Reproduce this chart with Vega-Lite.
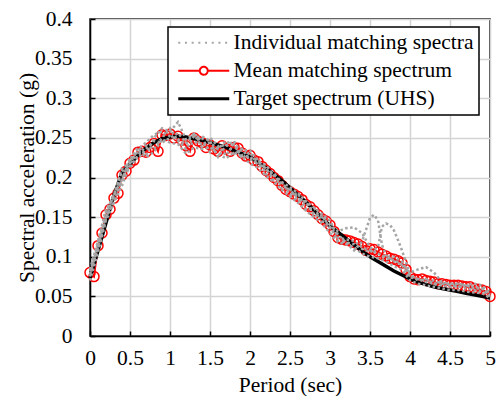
{
  "$schema": "https://vega.github.io/schema/vega-lite/v6.json",
  "autosize": "none",
  "padding": {"left": 90, "top": 19, "right": 9, "bottom": 60},
  "width": 400,
  "height": 317,
  "background": "white",
  "config": {
    "view": {"stroke": "black", "strokeWidth": 1.5},
    "numberFormat": "~g",
    "axis": {
      "labelFont": "Liberation Serif", "labelFontSize": 21.5, "labelColor": "black",
      "titleFont": "Liberation Serif", "titleFontSize": 21.5, "titleFontWeight": "normal", "titleColor": "black",
      "domainColor": "black", "domainWidth": 1.5, "tickColor": "black", "tickWidth": 1.5, "tickSize": -5,
      "grid": true, "gridColor": "#d4d4d4", "gridWidth": 1.5, "labelFlush": false, "labelOverlap": false
    },
    "axisX": {"labelPadding": 16, "titlePadding": 6, "tickCount": 10},
    "axisY": {"labelPadding": 23, "titlePadding": -4, "tickCount": 8},
    "legend": {
      "labelFont": "Liberation Serif", "labelFontSize": 21.5, "labelColor": "black",
      "symbolSize": 289, "padding": 5, "rowPadding": 5,
      "strokeColor": "black", "strokeWidth": 1.5, "fillColor": "white",
      "symbolOffset": 20, "labelOffset": 19, "labelLimit": 400
    }
  },
  "datasets": {
    "uhs": [
      {"x":0,"y":0.073},{"x":0.1,"y":0.108},{"x":0.2,"y":0.143},{"x":0.3,"y":0.178},{"x":0.4,"y":0.206},{"x":0.5,"y":0.217},{"x":0.6,"y":0.228},{"x":0.7,"y":0.237},{"x":0.8,"y":0.244},{"x":0.9,"y":0.249},
      {"x":1.0,"y":0.251},{"x":1.1,"y":0.252},{"x":1.2,"y":0.251},{"x":1.3,"y":0.249},{"x":1.4,"y":0.247},{"x":1.5,"y":0.244},{"x":1.6,"y":0.241},{"x":1.7,"y":0.238},{"x":1.8,"y":0.234},{"x":1.9,"y":0.230},
      {"x":2.0,"y":0.226},{"x":2.1,"y":0.219},{"x":2.2,"y":0.212},{"x":2.3,"y":0.204},{"x":2.4,"y":0.196},{"x":2.5,"y":0.187},{"x":2.6,"y":0.178},{"x":2.7,"y":0.169},{"x":2.8,"y":0.159},{"x":2.9,"y":0.149},
      {"x":3.0,"y":0.139},{"x":3.1,"y":0.131},{"x":3.2,"y":0.123},{"x":3.3,"y":0.115},{"x":3.4,"y":0.107},{"x":3.5,"y":0.100},{"x":3.6,"y":0.094},{"x":3.7,"y":0.088},{"x":3.8,"y":0.082},{"x":3.9,"y":0.077},
      {"x":4.0,"y":0.072},{"x":4.1,"y":0.068},{"x":4.2,"y":0.065},{"x":4.3,"y":0.062},{"x":4.4,"y":0.060},{"x":4.5,"y":0.058},{"x":4.6,"y":0.056},{"x":4.7,"y":0.054},{"x":4.8,"y":0.052},{"x":4.9,"y":0.050},{"x":5.0,"y":0.048}
    ],
    "mean": [
      {"x":0,"y":0.080},{"x":0.05,"y":0.075},{"x":0.1,"y":0.114},{"x":0.15,"y":0.130},{"x":0.2,"y":0.153},{"x":0.25,"y":0.160},{"x":0.3,"y":0.174},{"x":0.35,"y":0.180},{"x":0.4,"y":0.203},{"x":0.45,"y":0.208},
      {"x":0.5,"y":0.218},{"x":0.55,"y":0.222},{"x":0.6,"y":0.232},{"x":0.65,"y":0.233},{"x":0.7,"y":0.232},{"x":0.75,"y":0.238},{"x":0.8,"y":0.243},{"x":0.85,"y":0.233},{"x":0.9,"y":0.254},{"x":0.95,"y":0.253},
      {"x":1.0,"y":0.255},{"x":1.05,"y":0.250},{"x":1.1,"y":0.252},{"x":1.15,"y":0.247},{"x":1.2,"y":0.240},{"x":1.25,"y":0.233},{"x":1.3,"y":0.250},{"x":1.35,"y":0.246},{"x":1.4,"y":0.244},{"x":1.45,"y":0.238},
      {"x":1.5,"y":0.241},{"x":1.55,"y":0.236},{"x":1.6,"y":0.233},{"x":1.65,"y":0.240},{"x":1.7,"y":0.236},{"x":1.75,"y":0.233},{"x":1.8,"y":0.238},{"x":1.85,"y":0.237},{"x":1.9,"y":0.231},{"x":1.95,"y":0.227},
      {"x":2.0,"y":0.228},{"x":2.05,"y":0.222},{"x":2.1,"y":0.220},{"x":2.15,"y":0.214},{"x":2.2,"y":0.209},{"x":2.25,"y":0.205},{"x":2.3,"y":0.200},{"x":2.35,"y":0.196},{"x":2.4,"y":0.190},{"x":2.45,"y":0.185},
      {"x":2.5,"y":0.182},{"x":2.55,"y":0.179},{"x":2.6,"y":0.176},{"x":2.65,"y":0.172},{"x":2.7,"y":0.166},{"x":2.75,"y":0.163},{"x":2.8,"y":0.158},{"x":2.85,"y":0.153},{"x":2.9,"y":0.148},{"x":2.95,"y":0.145},
      {"x":3.0,"y":0.140},{"x":3.05,"y":0.132},{"x":3.1,"y":0.124},{"x":3.15,"y":0.122},{"x":3.2,"y":0.121},{"x":3.25,"y":0.120},{"x":3.3,"y":0.118},{"x":3.35,"y":0.116},{"x":3.4,"y":0.113},{"x":3.45,"y":0.108},
      {"x":3.5,"y":0.110},{"x":3.55,"y":0.109},{"x":3.6,"y":0.106},{"x":3.65,"y":0.103},{"x":3.7,"y":0.101},{"x":3.75,"y":0.098},{"x":3.8,"y":0.097},{"x":3.85,"y":0.095},{"x":3.9,"y":0.092},{"x":3.95,"y":0.084},
      {"x":4.0,"y":0.075},{"x":4.05,"y":0.072},{"x":4.1,"y":0.071},{"x":4.15,"y":0.072},{"x":4.2,"y":0.070},{"x":4.25,"y":0.069},{"x":4.3,"y":0.068},{"x":4.35,"y":0.066},{"x":4.4,"y":0.066},{"x":4.45,"y":0.065},
      {"x":4.5,"y":0.064},{"x":4.55,"y":0.064},{"x":4.6,"y":0.064},{"x":4.65,"y":0.063},{"x":4.7,"y":0.062},{"x":4.75,"y":0.062},{"x":4.8,"y":0.060},{"x":4.85,"y":0.059},{"x":4.9,"y":0.058},{"x":4.95,"y":0.056},{"x":5.0,"y":0.050}
    ],
    "ind": [
      {"id":1,"x":0,"y":0.075},{"id":1,"x":0.1,"y":0.118},{"id":1,"x":0.2,"y":0.150},{"id":1,"x":0.3,"y":0.170},{"id":1,"x":0.4,"y":0.198},{"id":1,"x":0.5,"y":0.222},{"id":1,"x":0.6,"y":0.238},{"id":1,"x":0.7,"y":0.228},{"id":1,"x":0.8,"y":0.250},{"id":1,"x":0.9,"y":0.262},
      {"id":1,"x":1.0,"y":0.258},{"id":1,"x":1.1,"y":0.270},{"id":1,"x":1.2,"y":0.248},{"id":1,"x":1.3,"y":0.255},{"id":1,"x":1.4,"y":0.238},{"id":1,"x":1.5,"y":0.250},{"id":1,"x":1.6,"y":0.240},{"id":1,"x":1.7,"y":0.228},{"id":1,"x":1.8,"y":0.242},{"id":1,"x":1.9,"y":0.224},
      {"id":1,"x":2.0,"y":0.232},{"id":1,"x":2.1,"y":0.215},{"id":1,"x":2.2,"y":0.212},{"id":1,"x":2.3,"y":0.196},{"id":1,"x":2.4,"y":0.194},{"id":1,"x":2.5,"y":0.178},{"id":1,"x":2.6,"y":0.180},{"id":1,"x":2.7,"y":0.160},{"id":1,"x":2.8,"y":0.162},{"id":1,"x":2.9,"y":0.145},
      {"id":1,"x":3.0,"y":0.138},{"id":1,"x":3.1,"y":0.120},{"id":1,"x":3.2,"y":0.118},{"id":1,"x":3.3,"y":0.108},{"id":1,"x":3.4,"y":0.119},{"id":1,"x":3.45,"y":0.134},{"id":1,"x":3.5,"y":0.149},{"id":1,"x":3.55,"y":0.153},{"id":1,"x":3.6,"y":0.146},{"id":1,"x":3.65,"y":0.115},
      {"id":1,"x":3.7,"y":0.102},{"id":1,"x":3.8,"y":0.094},{"id":1,"x":3.9,"y":0.090},{"id":1,"x":4.0,"y":0.074},{"id":1,"x":4.1,"y":0.072},{"id":1,"x":4.2,"y":0.068},{"id":1,"x":4.3,"y":0.066},{"id":1,"x":4.4,"y":0.064},{"id":1,"x":4.5,"y":0.062},{"id":1,"x":4.6,"y":0.063},
      {"id":1,"x":4.7,"y":0.060},{"id":1,"x":4.8,"y":0.058},{"id":1,"x":4.9,"y":0.056},{"id":1,"x":5.0,"y":0.050},
      {"id":2,"x":0,"y":0.082},{"id":2,"x":0.1,"y":0.110},{"id":2,"x":0.2,"y":0.156},{"id":2,"x":0.3,"y":0.178},{"id":2,"x":0.4,"y":0.208},{"id":2,"x":0.5,"y":0.212},{"id":2,"x":0.6,"y":0.228},{"id":2,"x":0.7,"y":0.240},{"id":2,"x":0.8,"y":0.236},{"id":2,"x":0.9,"y":0.250},
      {"id":2,"x":1.0,"y":0.262},{"id":2,"x":1.1,"y":0.246},{"id":2,"x":1.2,"y":0.236},{"id":2,"x":1.3,"y":0.252},{"id":2,"x":1.4,"y":0.250},{"id":2,"x":1.5,"y":0.232},{"id":2,"x":1.6,"y":0.238},{"id":2,"x":1.7,"y":0.242},{"id":2,"x":1.8,"y":0.230},{"id":2,"x":1.9,"y":0.236},
      {"id":2,"x":2.0,"y":0.222},{"id":2,"x":2.1,"y":0.224},{"id":2,"x":2.2,"y":0.204},{"id":2,"x":2.3,"y":0.206},{"id":2,"x":2.4,"y":0.186},{"id":2,"x":2.5,"y":0.186},{"id":2,"x":2.6,"y":0.170},{"id":2,"x":2.7,"y":0.170},{"id":2,"x":2.8,"y":0.152},{"id":2,"x":2.9,"y":0.152},
      {"id":2,"x":3.0,"y":0.136},{"id":2,"x":3.1,"y":0.128},{"id":2,"x":3.2,"y":0.118},{"id":2,"x":3.3,"y":0.116},{"id":2,"x":3.4,"y":0.110},{"id":2,"x":3.5,"y":0.106},{"id":2,"x":3.6,"y":0.112},{"id":2,"x":3.65,"y":0.138},{"id":2,"x":3.7,"y":0.142},{"id":2,"x":3.75,"y":0.140},
      {"id":2,"x":3.8,"y":0.133},{"id":2,"x":3.85,"y":0.121},{"id":2,"x":3.9,"y":0.108},{"id":2,"x":4.0,"y":0.078},{"id":2,"x":4.1,"y":0.070},{"id":2,"x":4.2,"y":0.072},{"id":2,"x":4.3,"y":0.066},{"id":2,"x":4.4,"y":0.068},{"id":2,"x":4.5,"y":0.064},{"id":2,"x":4.6,"y":0.062},
      {"id":2,"x":4.7,"y":0.064},{"id":2,"x":4.8,"y":0.060},{"id":2,"x":4.9,"y":0.060},{"id":2,"x":5.0,"y":0.052},
      {"id":3,"x":0,"y":0.078},{"id":3,"x":0.1,"y":0.112},{"id":3,"x":0.2,"y":0.148},{"id":3,"x":0.3,"y":0.180},{"id":3,"x":0.4,"y":0.196},{"id":3,"x":0.5,"y":0.226},{"id":3,"x":0.6,"y":0.224},{"id":3,"x":0.7,"y":0.236},{"id":3,"x":0.8,"y":0.246},{"id":3,"x":0.9,"y":0.244},
      {"id":3,"x":1.0,"y":0.250},{"id":3,"x":1.1,"y":0.256},{"id":3,"x":1.2,"y":0.244},{"id":3,"x":1.3,"y":0.242},{"id":3,"x":1.4,"y":0.252},{"id":3,"x":1.5,"y":0.246},{"id":3,"x":1.6,"y":0.226},{"id":3,"x":1.7,"y":0.240},{"id":3,"x":1.8,"y":0.246},{"id":3,"x":1.9,"y":0.228},
      {"id":3,"x":2.0,"y":0.226},{"id":3,"x":2.1,"y":0.218},{"id":3,"x":2.2,"y":0.216},{"id":3,"x":2.3,"y":0.202},{"id":3,"x":2.4,"y":0.192},{"id":3,"x":2.5,"y":0.184},{"id":3,"x":2.6,"y":0.174},{"id":3,"x":2.7,"y":0.168},{"id":3,"x":2.8,"y":0.154},{"id":3,"x":2.9,"y":0.150},
      {"id":3,"x":3.0,"y":0.140},{"id":3,"x":3.1,"y":0.132},{"id":3,"x":3.2,"y":0.136},{"id":3,"x":3.3,"y":0.137},{"id":3,"x":3.4,"y":0.130},{"id":3,"x":3.5,"y":0.112},{"id":3,"x":3.6,"y":0.104},{"id":3,"x":3.7,"y":0.098},{"id":3,"x":3.8,"y":0.096},{"id":3,"x":3.9,"y":0.090},
      {"id":3,"x":4.0,"y":0.080},{"id":3,"x":4.1,"y":0.084},{"id":3,"x":4.2,"y":0.087},{"id":3,"x":4.3,"y":0.080},{"id":3,"x":4.4,"y":0.068},{"id":3,"x":4.5,"y":0.066},{"id":3,"x":4.6,"y":0.066},{"id":3,"x":4.7,"y":0.064},{"id":3,"x":4.8,"y":0.066},{"id":3,"x":4.9,"y":0.064},{"id":3,"x":5.0,"y":0.054},
      {"id":4,"x":0,"y":0.070},{"id":4,"x":0.1,"y":0.106},{"id":4,"x":0.2,"y":0.146},{"id":4,"x":0.3,"y":0.168},{"id":4,"x":0.4,"y":0.190},{"id":4,"x":0.5,"y":0.216},{"id":4,"x":0.6,"y":0.234},{"id":4,"x":0.7,"y":0.226},{"id":4,"x":0.8,"y":0.232},{"id":4,"x":0.9,"y":0.248},
      {"id":4,"x":1.0,"y":0.244},{"id":4,"x":1.1,"y":0.242},{"id":4,"x":1.2,"y":0.230},{"id":4,"x":1.3,"y":0.238},{"id":4,"x":1.4,"y":0.236},{"id":4,"x":1.5,"y":0.238},{"id":4,"x":1.6,"y":0.230},{"id":4,"x":1.7,"y":0.224},{"id":4,"x":1.8,"y":0.232},{"id":4,"x":1.9,"y":0.226},
      {"id":4,"x":2.0,"y":0.218},{"id":4,"x":2.1,"y":0.212},{"id":4,"x":2.2,"y":0.202},{"id":4,"x":2.3,"y":0.194},{"id":4,"x":2.4,"y":0.184},{"id":4,"x":2.5,"y":0.176},{"id":4,"x":2.6,"y":0.168},{"id":4,"x":2.7,"y":0.158},{"id":4,"x":2.8,"y":0.150},{"id":4,"x":2.9,"y":0.142},
      {"id":4,"x":3.0,"y":0.130},{"id":4,"x":3.1,"y":0.118},{"id":4,"x":3.2,"y":0.116},{"id":4,"x":3.3,"y":0.112},{"id":4,"x":3.4,"y":0.104},{"id":4,"x":3.5,"y":0.100},{"id":4,"x":3.6,"y":0.098},{"id":4,"x":3.7,"y":0.094},{"id":4,"x":3.8,"y":0.088},{"id":4,"x":3.9,"y":0.084},
      {"id":4,"x":4.0,"y":0.070},{"id":4,"x":4.1,"y":0.066},{"id":4,"x":4.2,"y":0.064},{"id":4,"x":4.3,"y":0.062},{"id":4,"x":4.4,"y":0.060},{"id":4,"x":4.5,"y":0.058},{"id":4,"x":4.6,"y":0.058},{"id":4,"x":4.7,"y":0.056},{"id":4,"x":4.8,"y":0.055},{"id":4,"x":4.9,"y":0.054},{"id":4,"x":5.0,"y":0.048},
      {"id":5,"x":0,"y":0.084},{"id":5,"x":0.1,"y":0.120},{"id":5,"x":0.2,"y":0.160},{"id":5,"x":0.3,"y":0.176},{"id":5,"x":0.4,"y":0.212},{"id":5,"x":0.5,"y":0.218},{"id":5,"x":0.6,"y":0.236},{"id":5,"x":0.7,"y":0.244},{"id":5,"x":0.8,"y":0.254},{"id":5,"x":0.9,"y":0.258},
      {"id":5,"x":1.0,"y":0.252},{"id":5,"x":1.1,"y":0.248},{"id":5,"x":1.2,"y":0.242},{"id":5,"x":1.3,"y":0.256},{"id":5,"x":1.4,"y":0.240},{"id":5,"x":1.5,"y":0.244},{"id":5,"x":1.6,"y":0.236},{"id":5,"x":1.7,"y":0.246},{"id":5,"x":1.8,"y":0.240},{"id":5,"x":1.9,"y":0.234},
      {"id":5,"x":2.0,"y":0.234},{"id":5,"x":2.1,"y":0.222},{"id":5,"x":2.2,"y":0.210},{"id":5,"x":2.3,"y":0.204},{"id":5,"x":2.4,"y":0.194},{"id":5,"x":2.5,"y":0.188},{"id":5,"x":2.6,"y":0.180},{"id":5,"x":2.7,"y":0.170},{"id":5,"x":2.8,"y":0.162},{"id":5,"x":2.9,"y":0.154},
      {"id":5,"x":3.0,"y":0.146},{"id":5,"x":3.1,"y":0.124},{"id":5,"x":3.2,"y":0.122},{"id":5,"x":3.3,"y":0.120},{"id":5,"x":3.4,"y":0.112},{"id":5,"x":3.5,"y":0.108},{"id":5,"x":3.6,"y":0.104},{"id":5,"x":3.7,"y":0.100},{"id":5,"x":3.8,"y":0.100},{"id":5,"x":3.9,"y":0.094},
      {"id":5,"x":4.0,"y":0.076},{"id":5,"x":4.1,"y":0.072},{"id":5,"x":4.2,"y":0.070},{"id":5,"x":4.3,"y":0.070},{"id":5,"x":4.4,"y":0.066},{"id":5,"x":4.5,"y":0.066},{"id":5,"x":4.6,"y":0.066},{"id":5,"x":4.7,"y":0.064},{"id":5,"x":4.8,"y":0.062},{"id":5,"x":4.9,"y":0.060},{"id":5,"x":5.0,"y":0.052}
    ]
  },
  "layer": [
    {
      "data": {"name": "mean"},
      "mark": {"type": "line", "strokeWidth": 2},
      "encoding": {
        "x": {"field": "x", "type": "quantitative", "title": "Period (sec)", "scale": {"domain": [0, 5], "nice": false}},
        "y": {"field": "y", "type": "quantitative", "title": "Spectral acceleration (g)", "scale": {"domain": [0, 0.4], "nice": false}},
        "color": {"datum": "Mean matching spectrum", "type": "nominal",
          "scale": {"domain": ["Individual matching spectra", "Mean matching spectrum", "Target spectrum (UHS)"], "range": ["#a5a5a5", "#ff0000", "#000000"]},
          "legend": {"title": null, "orient": "none", "legendX": 78, "legendY": 8,
            "encode": {"symbols": {"update": {
              "shape": {"signal": "datum.value === 'Mean matching spectrum' ? 'M-3,0H-0.47M0.47,0H3M-0.47,0A0.47,0.47 0 1,0 0.47,0A0.47,0.47 0 1,0 -0.47,0' : 'M-3,0H3'"},
              "strokeDash": {"signal": "datum.value === 'Individual matching spectra' ? [2,4.7] : [1,0]"},
              "strokeWidth": {"signal": "datum.value === 'Target spectrum (UHS)' ? 3 : 2"},
              "fill": {"value": "transparent"}
            }}}}}
      }
    },
    {
      "data": {"name": "mean"},
      "mark": {"type": "point", "filled": false, "shape": "circle", "size": 100, "strokeWidth": 1.5, "opacity": 1, "color": "#ff0000"},
      "encoding": {
        "x": {"field": "x", "type": "quantitative", "title": "Period (sec)"},
        "y": {"field": "y", "type": "quantitative", "title": "Spectral acceleration (g)"}
      }
    },
    {
      "data": {"name": "uhs"},
      "mark": {"type": "line", "strokeWidth": 3.5, "color": "#000000"},
      "encoding": {
        "x": {"field": "x", "type": "quantitative", "title": "Period (sec)"},
        "y": {"field": "y", "type": "quantitative", "title": "Spectral acceleration (g)"}
      }
    },
    {
      "data": {"name": "ind"},
      "mark": {"type": "line", "strokeWidth": 2.5, "strokeDash": [2.5, 2.5], "color": "#a5a5a5"},
      "encoding": {
        "x": {"field": "x", "type": "quantitative", "title": "Period (sec)"},
        "y": {"field": "y", "type": "quantitative", "title": "Spectral acceleration (g)"},
        "detail": {"field": "id", "type": "nominal"}
      }
    }
  ]
}
